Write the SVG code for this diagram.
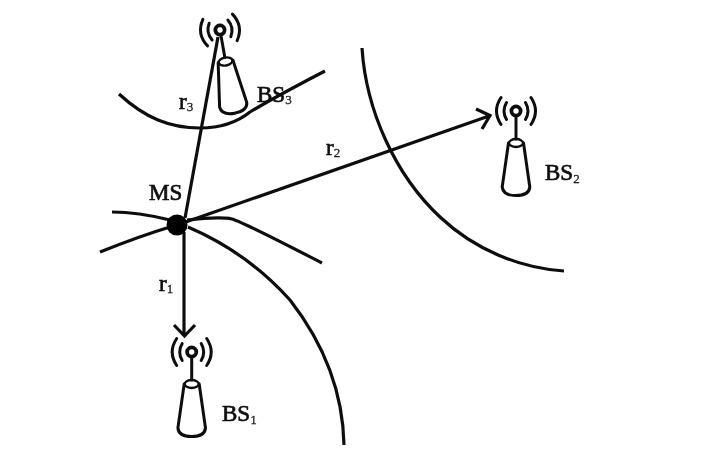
<svg xmlns="http://www.w3.org/2000/svg" width="718" height="465" viewBox="0 0 718 465">
<style>
.l{fill:none;stroke:#111;stroke-width:3.2;stroke-linecap:butt}
.i{fill:none;stroke:#111;stroke-width:3;stroke-linecap:round}
.t{font-family:"Liberation Serif","Times New Roman",serif;fill:#111;stroke:#111;stroke-width:0.7;font-size:23px}
.s{font-size:13px;stroke-width:0.3;fill:#333}
</style>
<defs>
<filter id="b" x="-5%" y="-5%" width="110%" height="110%"><feGaussianBlur stdDeviation="0.7"/></filter>
<g id="tower">
<circle cx="0" cy="0" r="4.600" fill="#fff" stroke="#111" stroke-width="3.800"/>
<path class="i" d="M-9.500-8.500Q-14.500 0-9.500 8.500M9.500-8.500Q14.500 0 9.500 8.500M-15-13.500Q-24 0-15 13.500M15-13.500Q24 0 15 13.500"/>
<path class="i" d="M0 6V28"/>
<ellipse cx="0" cy="32" rx="7" ry="4" fill="none" stroke="#111" stroke-width="2.400"/>
<path class="i" d="M-7.500 32L-13.800 76Q-13 84.500 0 84.500Q13 84.500 13.800 76L7.500 32"/>
</g>
</defs>
<rect width="718" height="465" fill="#fff"/>
<g filter="url(#b)">
<g id="connectors">
<path class="l" d="M119 94C145 118 170 128 200 128C225 128 240 120 250 112C270 100 300 84 325 71"/>
<path class="l" d="M362 48C366 110 395 175 440 217C475 250 520 268 564 271"/>
<path class="l" d="M188 227C230 245 265 272 290 300C325 345 343 395 344 445"/>
<path class="l" d="M187 220C205 218 222 217 232 219C245 223 285 244 322 263"/>
<path class="l" d="M112 212C130 212 150 215 170 220"/>
<path class="l" d="M100 252C125 242 150 233 170 227"/>
<path class="l" d="M184 232V335M174 325L184.500 336L195 325"/>
<path class="l" d="M180 224L489 116M476 109L490 115.500L482 129"/>
<path class="l" d="M185 218L218 37"/>
</g>
<g id="MS"><circle cx="177" cy="225" r="10.500" fill="#000"/><text class="t" x="149" y="200" font-size="22">MS</text></g>
<g id="BS1"><use href="#tower" transform="translate(191.700 352)"/><text class="t" x="222" y="420.500">BS<tspan class="s" dy="3">1</tspan></text></g>
<g id="BS2"><use href="#tower" transform="translate(516 111)"/><text class="t" x="545" y="180">BS<tspan class="s" dy="3">2</tspan></text></g>
<g id="BS3"><use href="#tower" transform="translate(220 30) rotate(-10)"/><text class="t" x="257" y="102">BS<tspan class="s" dy="2">3</tspan></text></g>
<text class="t" x="179" y="109">r<tspan class="s" dy="2">3</tspan></text>
<text class="t" x="326" y="155">r<tspan class="s" dy="2">2</tspan></text>
<text class="t" x="159" y="291">r<tspan class="s" dy="2">1</tspan></text>
</g>
</svg>
